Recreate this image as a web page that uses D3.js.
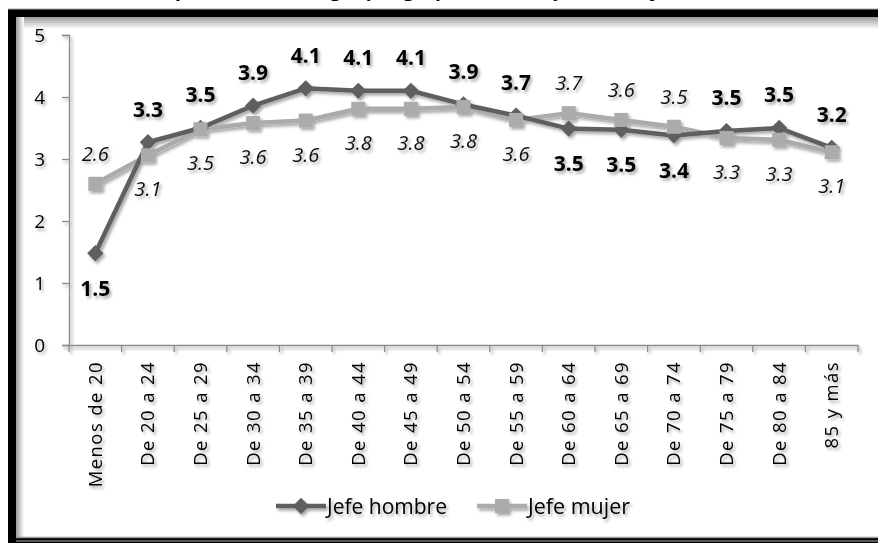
<!DOCTYPE html>
<html>
<head>
<meta charset="utf-8">
<script src="https://cdn.jsdelivr.net/npm/d3@7"></script>
<style>
  body { margin: 0; background: #fff; }
  svg { display: block; }
  text { font-family: "Open Sans", "Noto Sans", sans-serif; }
</style>
</head>
<body>
<div id="chart"></div>
<script>
// categorias de edad del jefe
const categories = ["Menos de 20", "De 20 a 24", "De 25 a 29", "De 30 a 34", "De 35 a 39",
  "De 40 a 44", "De 45 a 49", "De 50 a 54", "De 55 a 59", "De 60 a 64",
  "De 65 a 69", "De 70 a 74", "De 75 a 79", "De 80 a 84", "85 y más"];

// tamaño del hogar
const jefeHombre = [1.48, 3.27, 3.5, 3.86, 4.14, 4.1, 4.1, 3.88, 3.7, 3.49, 3.47, 3.38, 3.45, 3.5, 3.18];
const jefeMujer  = [2.6, 3.06, 3.48, 3.58, 3.62, 3.81, 3.81, 3.84, 3.63, 3.74, 3.63, 3.52, 3.34, 3.31, 3.11];

// posicion de la etiqueta: -1 arriba, 1 abajo
const posHombre = [1, -1, -1, -1, -1, -1, -1, -1, -1, 1, 1, 1, -1, -1, -1];
const posMujer  = [-1, 1, 1, 1, 1, 1, 1, 1, 1, -1, -1, -1, 1, 1, 1];

const yTicks = [0, 1, 2, 3, 4, 5];
const seriesNames = ["Jefe hombre", "Jefe mujer"];

const width = 878, height = 543;
const svg = d3.select("#chart").append("svg")
  .attr("width", width)
  .attr("height", height);

const defs = svg.append("defs");
const shadow = defs.append("filter").attr("id", "shadow")
  .attr("x", "-30%").attr("y", "-30%").attr("width", "160%").attr("height", "160%");
shadow.append("feDropShadow")
  .attr("dx", 2).attr("dy", 2.5).attr("stdDeviation", 1.8)
  .attr("flood-color", "#000").attr("flood-opacity", 0.35);

const gTop = defs.append("linearGradient").attr("id", "gTop").attr("x1", 0).attr("y1", 0).attr("x2", 0).attr("y2", 1);
gTop.append("stop").attr("offset", "0%").attr("stop-color", "#9a9a9a");
gTop.append("stop").attr("offset", "100%").attr("stop-color", "#fff");
const gLeft = defs.append("linearGradient").attr("id", "gLeft").attr("x1", 0).attr("y1", 0).attr("x2", 1).attr("y2", 0);
gLeft.append("stop").attr("offset", "0%").attr("stop-color", "#9a9a9a");
gLeft.append("stop").attr("offset", "100%").attr("stop-color", "#fff");

// titulo (cortado arriba, solo se ven los trazos descendentes)
svg.append("text")
  .attr("x", 390).attr("y", -4)
  .attr("text-anchor", "middle")
  .style("font-weight", "bold").style("font-size", "19px")
  .text("Tamaño promedio del hogar por grupos de edad y sexo del jefe");

// marco
svg.append("rect").attr("x", 8).attr("y", 9).attr("width", 880).attr("height", 534).attr("fill", "#000");
svg.append("rect").attr("x", 16).attr("y", 17).attr("width", 870).attr("height", 521).attr("fill", "#fff");
svg.append("rect").attr("x", 16).attr("y", 17).attr("width", 870).attr("height", 12).attr("fill", "url(#gTop)");
svg.append("rect").attr("x", 16).attr("y", 17).attr("width", 8).attr("height", 521).attr("fill", "url(#gLeft)");
svg.append("line").attr("x1", 8).attr("x2", 878).attr("y1", 9).attr("y2", 9).attr("stroke", "#aaa");
svg.append("line").attr("x1", 16).attr("x2", 878).attr("y1", 537.5).attr("y2", 537.5).attr("stroke", "#999").attr("stroke-width", 1.5);
svg.append("line").attr("x1", 16).attr("x2", 878).attr("y1", 541).attr("y2", 541).attr("stroke", "#777").attr("stroke-width", 1.5);

const x = d3.scaleBand().domain(categories).range([69, 858]);
const y = d3.scaleLinear().domain([0, 5]).range([345, 35]);

const g = svg.append("g").attr("filter", "url(#shadow)");

// eje y
const yAxis = g.append("g")
  .attr("transform", "translate(69,0)")
  .call(d3.axisLeft(y).tickValues(yTicks).tickFormat(d3.format("d")).tickSize(7).tickPadding(17));
yAxis.select(".domain").attr("stroke", "#8a8a8a").attr("stroke-width", 1.3);
yAxis.selectAll(".tick line").attr("stroke", "#8a8a8a").attr("stroke-width", 1.3);
yAxis.selectAll(".tick text").style("font-size", "19px").attr("fill", "#000");

// eje x
const xAxis = g.append("g")
  .attr("transform", "translate(0,345)")
  .call(d3.axisBottom(x).tickSize(0).tickPadding(0));
xAxis.select(".domain").attr("stroke", "#8a8a8a").attr("stroke-width", 1.3);
xAxis.selectAll(".tick text")
  .style("font-size", "18.5px").style("letter-spacing", "1.4px").attr("fill", "#000")
  .attr("text-anchor", "end")
  .attr("dy", "0.35em")
  .attr("transform", "translate(0,16) rotate(-90)")
  .attr("x", 0).attr("y", 0);
// marcas entre categorias
g.append("g").selectAll("line")
  .data(categories.concat(["fin"]))
  .enter().append("line")
  .attr("x1", (d, i) => 69 + i * x.step())
  .attr("x2", (d, i) => 69 + i * x.step())
  .attr("y1", 345).attr("y2", 352)
  .attr("stroke", "#8a8a8a").attr("stroke-width", 1.3);

const cx = d => x(d) + x.bandwidth() / 2;
const line = d3.line().x((d, i) => cx(categories[i])).y(d => y(d));

const colH = "#5f5f5f", colM = "#ababab";

// serie mujer
g.append("path").datum(jefeMujer).attr("d", line)
  .attr("fill", "none").attr("stroke", colM).attr("stroke-width", 4.5).attr("stroke-linejoin", "round");
// serie hombre
g.append("path").datum(jefeHombre).attr("d", line)
  .attr("fill", "none").attr("stroke", colH).attr("stroke-width", 4.5).attr("stroke-linejoin", "round");

g.append("g").selectAll("path")
  .data(jefeHombre).enter().append("path")
  .attr("d", d3.symbol(d3.symbolDiamond2, 170)())
  .attr("transform", (d, i) => `translate(${cx(categories[i])},${y(d)})`)
  .attr("fill", colH);

g.append("g").selectAll("rect")
  .data(jefeMujer).enter().append("rect")
  .attr("x", (d, i) => cx(categories[i]) - 7)
  .attr("y", d => y(d) - 7)
  .attr("width", 14).attr("height", 14)
  .attr("fill", colM);

const fmt = d3.format(".1f");

g.append("g").selectAll("text")
  .data(jefeHombre).enter().append("text")
  .attr("x", (d, i) => cx(categories[i]))
  .attr("y", (d, i) => y(d) + (posHombre[i] < 0 ? -33 : 35))
  .attr("dy", "0.35em")
  .attr("text-anchor", "middle")
  .style("font-size", "21px").style("font-weight", "bold")
  .attr("fill", "#000")
  .text(d => fmt(d));

g.append("g").selectAll("text")
  .data(jefeMujer).enter().append("text")
  .attr("x", (d, i) => cx(categories[i]))
  .attr("y", (d, i) => y(d) + (posMujer[i] < 0 ? -30 : 34))
  .attr("dy", "0.35em")
  .attr("text-anchor", "middle")
  .style("font-size", "20px").style("font-style", "italic")
  .attr("fill", "#111")
  .text(d => fmt(d));

// leyenda
const legend = g.append("g").attr("transform", "translate(0,506)");
const legItems = [
  { name: seriesNames[0], color: colH, x0: 276, shape: "diamond", len: 120 },
  { name: seriesNames[1], color: colM, x0: 477, shape: "square", len: 102 }
];
legItems.forEach(it => {
  legend.append("line").attr("x1", it.x0).attr("x2", it.x0 + 50).attr("y1", 0).attr("y2", 0)
    .attr("stroke", it.color).attr("stroke-width", 4.5);
  if (it.shape === "diamond") {
    legend.append("path").attr("d", d3.symbol(d3.symbolDiamond2, 170)())
      .attr("transform", `translate(${it.x0 + 25},0)`).attr("fill", it.color);
  } else {
    legend.append("rect").attr("x", it.x0 + 18).attr("y", -7).attr("width", 14).attr("height", 14).attr("fill", it.color);
  }
  legend.append("text").attr("x", it.x0 + 51).attr("y", 0).attr("dy", "0.35em")
    .style("font-size", "22px").attr("fill", "#000")
    .attr("textLength", it.len)
    .attr("lengthAdjust", "spacingAndGlyphs")
    .text(it.name);
});
</script>
</body>
</html>
